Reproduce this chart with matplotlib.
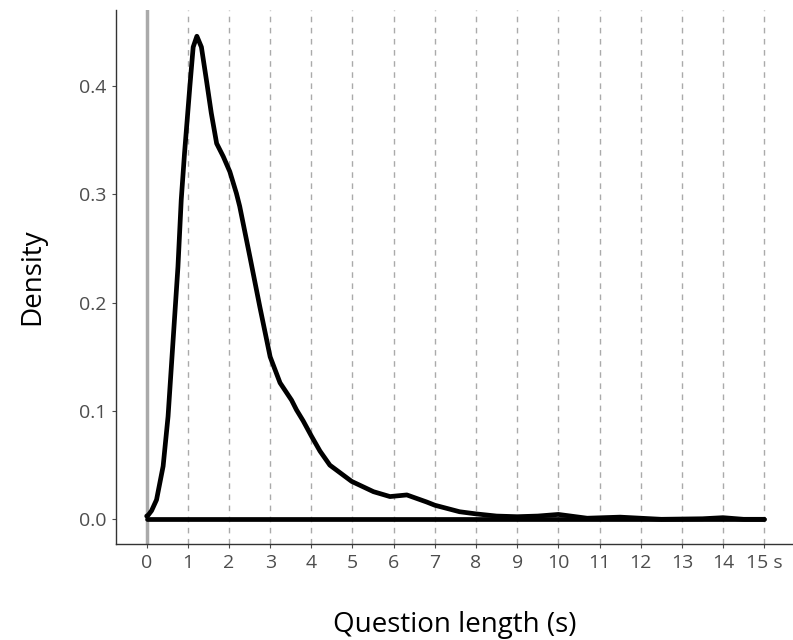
import matplotlib.pyplot as plt
import numpy as np

plt.rcParams['font.family'] = ['Open Sans', 'DejaVu Sans']

# density curve of question length
length_s = [0.0, 0.03, 0.12, 0.24, 0.40, 0.52, 0.60, 0.68, 0.76, 0.84, 0.92, 1.05, 1.13,
            1.22, 1.33, 1.45, 1.57, 1.70, 1.86, 2.02, 2.18, 2.26, 2.51, 2.75, 3.0,
            3.24, 3.52, 3.64, 3.80, 4.0, 4.21, 4.45, 4.98, 5.51, 5.91, 6.32, 6.8,
            7.0, 7.6, 8.0, 8.5, 9.0, 9.5, 10.0, 10.7, 11.5, 12.5, 13.5, 14.0,
            14.5, 15.0]
density = [0.003, 0.0035, 0.008, 0.018, 0.049, 0.095, 0.141, 0.187, 0.233, 0.295, 0.338,
           0.40, 0.436, 0.446, 0.436, 0.406, 0.375, 0.347, 0.335, 0.321, 0.301,
           0.289, 0.242, 0.196, 0.150, 0.126, 0.110, 0.101, 0.091, 0.077, 0.063,
           0.050, 0.035, 0.0255, 0.021, 0.0225, 0.016, 0.013, 0.007, 0.005, 0.003,
           0.0024, 0.003, 0.0045, 0.001, 0.002, 0.0, 0.0005, 0.0015, 0.0, 0.0]

xticks = list(range(16))
xticklabels = [str(t) for t in range(15)] + ['15 s']
yticks = [0.0, 0.1, 0.2, 0.3, 0.4]

fig = plt.figure(figsize=(7.93, 6.4), dpi=100)
ax = fig.add_axes([0.146, 0.15, 0.854, 0.834])

for t in xticks[1:]:
    ax.axvline(t, color='#aaaaaa', lw=1.0, ls=(0, (4, 4)), zorder=1)
ax.axvline(0, color='#aaaaaa', lw=2.5, zorder=2)

ax.plot(length_s, density, color='black', lw=3.4, solid_capstyle='round',
        solid_joinstyle='round', zorder=3)
ax.plot([length_s[0], length_s[-1]], [0, 0], color='black', lw=3.4,
        solid_capstyle='round', zorder=3)

ax.set_xlim(-0.75, 15.7)
ax.set_ylim(-0.0228, 0.470)
ax.set_xticks(xticks)
ax.set_xticklabels(xticklabels)
ax.set_yticks(yticks)
ax.set_yticklabels(['%.1f' % v for v in yticks])
ax.tick_params(colors='#4d4d4d', labelsize=14, length=3, width=0.8)
ax.tick_params(axis='x', pad=4)

for s in ['top', 'right']:
    ax.spines[s].set_visible(False)
for s in ['left', 'bottom']:
    ax.spines[s].set_color('#333333')
    ax.spines[s].set_linewidth(1.0)

ax.set_xlabel('Question length (s)', fontsize=20, labelpad=28)
ax.set_ylabel('Density', fontsize=20, labelpad=24)

fig.savefig('out.png', dpi=100)
